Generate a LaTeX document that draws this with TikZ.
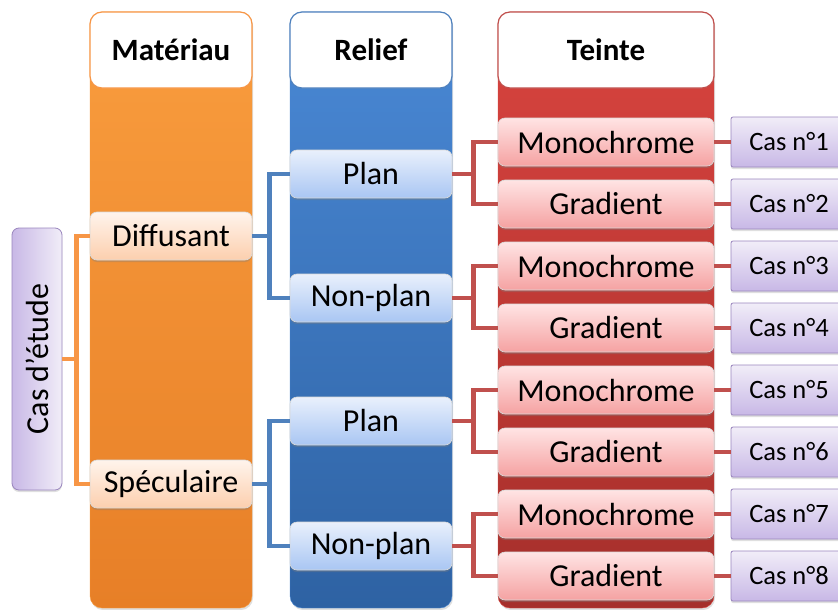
\documentclass[tikz,border=0pt]{standalone}
\usepackage{fontspec}
\setmainfont{Carlito}
\usetikzlibrary{shadows}
\definecolor{orline}{HTML}{F79646}
\definecolor{blline}{HTML}{4F81BD}
\definecolor{rdline}{HTML}{C0504D}
\definecolor{ortop}{HTML}{F99D3E}
\definecolor{orbot}{HTML}{E77F27}
\definecolor{bltop}{HTML}{4A89D6}
\definecolor{blbot}{HTML}{2E62A3}
\definecolor{rdtop}{HTML}{D9443F}
\definecolor{rdbot}{HTML}{A52F2B}
\definecolor{orsubtop}{HTML}{FFF4EC}
\definecolor{orsubbot}{HTML}{FCCFAE}
\definecolor{blsubtop}{HTML}{E9F0FC}
\definecolor{blsubbot}{HTML}{A9C6F3}
\definecolor{rdsubtop}{HTML}{FFE4E4}
\definecolor{rdsubbot}{HTML}{F5A2A2}
\definecolor{pusubtop}{HTML}{F1EDF8}
\definecolor{pusubbot}{HTML}{C8B8E6}
\definecolor{puline}{HTML}{9A86BE}
\tikzset{
  x=1pt, y=-1pt,
  colbox/.style={rounded corners=12pt, minimum width=162pt, minimum height=596pt, inner sep=0pt,
    drop shadow={opacity=0.25, shadow xshift=1pt, shadow yshift=-2pt}},
  hdr/.style={rounded corners=12pt, fill=white, line width=1.2pt, minimum width=162pt, minimum height=76pt,
    inner sep=0pt, font=\fontsize{31}{31}\selectfont\bfseries},
  sub/.style={rounded corners=7pt, draw=white!70!gray, line width=0.6pt, minimum height=48pt, inner sep=0pt,
    font=\fontsize{32}{32}\selectfont,
    drop shadow={opacity=0.35, shadow xshift=0pt, shadow yshift=-2pt}},
  orsub/.style={sub, minimum width=162pt, top color=orsubtop, bottom color=orsubbot},
  blsub/.style={sub, minimum width=162pt, top color=blsubtop, bottom color=blsubbot},
  rdsub/.style={sub, minimum width=216pt, top color=rdsubtop, bottom color=rdsubbot},
  casbox/.style={rounded corners=2pt, draw=puline, line width=0.8pt, minimum width=116pt, minimum height=50pt,
    inner sep=0pt, top color=pusubtop, bottom color=pusubbot, font=\fontsize{26.5}{26.5}\selectfont,
    drop shadow={opacity=0.25, shadow xshift=0pt, shadow yshift=-2pt}},
  orcon/.style={draw=orline, line width=4.5pt},
  blcon/.style={draw=blline, line width=4.5pt},
  rdcon/.style={draw=rdline, line width=4.5pt},
}
\begin{document}
\begin{tikzpicture}
\useasboundingbox (0,0) rectangle (838,610);
\clip (0,0) rectangle (838,610);
\fill[white] (0,0) rectangle (838,610);
% columns
\node[colbox, draw=ortop, top color=ortop, bottom color=orbot] (colM) at (171,310) {};
\node[colbox, draw=bltop, top color=bltop, bottom color=blbot] (colR) at (371,310) {};
\node[colbox, minimum width=216pt, draw=rdtop, top color=rdtop, bottom color=rdbot] (colT) at (606,310) {};
\node[hdr, draw=orline] (hM) at (171,50) {Matériau};
\node[hdr, draw=blline] (hR) at (371,50) {Relief};
\node[hdr, draw=rdline, minimum width=216pt] (hT) at (606,50) {Teinte};
% root
\node[rounded corners=7pt, draw=puline, line width=0.8pt, rotate=90, minimum width=262pt, minimum height=50pt,
  inner sep=0pt, left color=pusubbot, right color=pusubtop,
  font=\fontsize{32}{32}\selectfont,
  drop shadow={opacity=0.25, shadow xshift=0pt, shadow yshift=-2pt}] (root) at (37,359) {Cas d’étude};
% level 1
\node[orsub] (diff) at (171,236) {Diffusant};
\node[orsub] (spec) at (171,484) {Spéculaire};
% level 2
\node[blsub] (p1) at (371,174) {Plan};
\node[blsub] (np1) at (371,298) {Non-plan};
\node[blsub] (p2) at (371,421) {Plan};
\node[blsub] (np2) at (371,546) {Non-plan};
% level 3
\node[rdsub] (m1) at (606,142) {Monochrome};
\node[rdsub] (g1) at (606,204) {Gradient};
\node[rdsub] (m2) at (606,266) {Monochrome};
\node[rdsub] (g2) at (606,328) {Gradient};
\node[rdsub] (m3) at (606,390) {Monochrome};
\node[rdsub] (g3) at (606,452) {Gradient};
\node[rdsub] (m4) at (606,514) {Monochrome};
\node[rdsub] (g4) at (606,576) {Gradient};
% cases
\node[casbox] (c1) at (789,142) {Cas n°1};
\node[casbox] (c2) at (789,204) {Cas n°2};
\node[casbox] (c3) at (789,266) {Cas n°3};
\node[casbox] (c4) at (789,328) {Cas n°4};
\node[casbox] (c5) at (789,390) {Cas n°5};
\node[casbox] (c6) at (789,452) {Cas n°6};
\node[casbox] (c7) at (789,514) {Cas n°7};
\node[casbox] (c8) at (789,576) {Cas n°8};
% connectors
\draw[orcon] (root.south) -| ([xshift=-13pt]diff.west) -- (diff.west);
\draw[orcon] (root.south) -| ([xshift=-13pt]spec.west) -- (spec.west);
\draw[blcon] (diff.east) -| ([xshift=-20pt]p1.west) -- (p1.west);
\draw[blcon] (diff.east) -| ([xshift=-20pt]np1.west) -- (np1.west);
\draw[blcon] (spec.east) -| ([xshift=-20pt]p2.west) -- (p2.west);
\draw[blcon] (spec.east) -| ([xshift=-20pt]np2.west) -- (np2.west);
\foreach \p/\a/\b in {p1/m1/g1, np1/m2/g2, p2/m3/g3, np2/m4/g4}{
  \draw[rdcon] (\p.east) -| ([xshift=-24pt]\a.west) -- (\a.west);
  \draw[rdcon] (\p.east) -| ([xshift=-24pt]\b.west) -- (\b.west);
}
\foreach \a/\c in {m1/c1, g1/c2, m2/c3, g2/c4, m3/c5, g3/c6, m4/c7, g4/c8}{
  \draw[rdcon] (\a.east) -- (\c.west);
}
\end{tikzpicture}
\end{document}
